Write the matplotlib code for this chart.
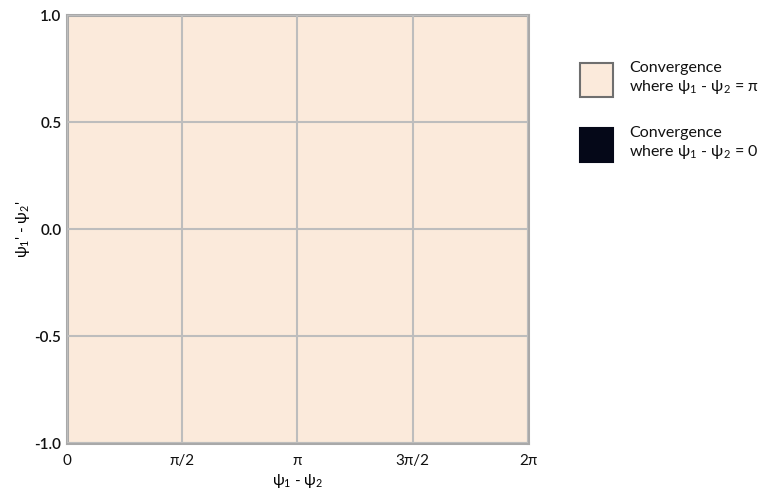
import numpy as np
import matplotlib.pyplot as plt
from matplotlib.patches import Rectangle

plt.rcParams['font.family'] = ['Lato', 'DejaVu Sans']
plt.rcParams['mathtext.fontset'] = 'custom'
plt.rcParams['mathtext.rm'] = 'Lato'
plt.rcParams['mathtext.it'] = 'Lato'
plt.rcParams['mathtext.default'] = 'regular'

# basin of attraction on the (psi1 - psi2, psi1' - psi2') plane:
# 1 = converges to psi1 - psi2 = pi, 0 = converges to psi1 - psi2 = 0
basin = [[1, 1, 1, 1],
         [1, 1, 1, 1],
         [1, 1, 1, 1],
         [1, 1, 1, 1]]

x_ticks = [0, np.pi / 2, np.pi, 3 * np.pi / 2, 2 * np.pi]
x_labels = ['0', 'π/2', 'π', '3π/2', '2π']
y_ticks = [-1.0, -0.5, 0.0, 0.5, 1.0]
y_labels = ['-1.0', '-0.5', '0.0', '0.5', '1.0']

legend_labels = ['Convergence\nwhere ψ$_1$ - ψ$_2$ = π',
                 'Convergence\nwhere ψ$_1$ - ψ$_2$ = 0']
col_pi = '#fbeadb'
col_zero = '#050818'

fig = plt.figure(figsize=(7.69, 4.94), dpi=100)
ax = fig.add_axes([0.0871, 0.1032, 0.5995, 0.8664])

cmap = plt.matplotlib.colors.ListedColormap([col_zero, col_pi])
ax.imshow(np.array(basin), cmap=cmap, vmin=0, vmax=1, aspect='auto',
          extent=[0, 2 * np.pi, -1, 1], origin='lower', interpolation='nearest')

ax.set_xlim(0, 2 * np.pi)
ax.set_ylim(-1, 1)
ax.set_xticks(x_ticks)
ax.set_xticklabels(x_labels)
ax.set_yticks(y_ticks)
ax.set_yticklabels(y_labels)
ax.tick_params(length=0, labelsize=11, colors='#111111')
ax.tick_params(axis='x', pad=8)
ax.tick_params(axis='y', pad=4)
for lab in ax.get_yticklabels():
    lab.set_fontweight('semibold')
ax.grid(True, color='#bdbdbd', lw=1.5)
ax.set_axisbelow(False)
for s in ax.spines.values():
    s.set_color('#a9a9a9')
    s.set_linewidth(2.2)

ax.set_xlabel('ψ$_1$ - ψ$_2$', fontsize=11, labelpad=3)
ax.set_ylabel("ψ$_1$' - ψ$_2$'", fontsize=11, labelpad=2)

# legend drawn as boxes with text beside them
for i, (lab, col) in enumerate(zip(legend_labels, [col_pi, col_zero])):
    y0 = 1 - (97 + i * 65) / 494
    fig.add_artist(Rectangle((580 / 769, y0), 33 / 769, 34 / 494,
                             transform=fig.transFigure, facecolor=col,
                             edgecolor='#6f6f6f' if i == 0 else col, lw=1.5))
    fig.text(629 / 769, y0 + 36 / 494, lab, fontsize=11.5, va='top',
             ha='left', linespacing=1.2, color='#111111')

fig.savefig('out.png', dpi=100)
